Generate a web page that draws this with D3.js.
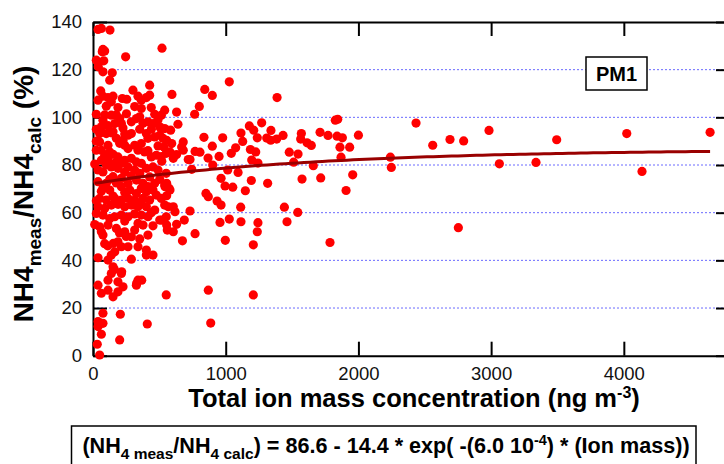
<!DOCTYPE html>
<html>
<head>
<meta charset="utf-8">
<script src="https://cdn.jsdelivr.net/npm/d3@7"></script>
<style>
  body { margin:0; background:#fff; }
  svg { display:block; font-family:"Liberation Sans", Arial, sans-serif; }
  .axis path, .axis line { stroke:#000; stroke-width:2; }
  .axis text { font-family:"Liberation Sans", Arial, sans-serif; font-size:18.5px; fill:#111; }
  .grid { stroke:#6a6aff; stroke-width:1; stroke-dasharray:2,2; }
</style>
</head>
<body>
<script>
// total ion mass (ng m-3), NH4 meas/calc (%)
var ionMass = [
  1027,842,899,801,766,1387,1826,1844,2434,1271,1178,1211,1341,1115,1711,1570,2000,1771,1839,1879,
  1432,1309,1339,1384,1238,977,836,1565,1128,1613,1645,1075,899,1861,1934,2560,2690,769,806,731,
  1042,1186,1226,950,867,1479,1545,2241,1869,1196,1243,1512,902,1660,2248,1015,1093,744,1957,965,
  1575,1716,1193,995,1053,1316,1148,1907,851,869,935,965,1113,1442,1543,731,957,1027,1115,1243,
  1462,1238,769,997,1208,1786,869,1208,887,
  2793,2984,3494,4022,4650,3062,3338,4137,2753,
  38,63,128,520,75,88,70,246,25,81,38,40,75,145,126,427,58,38,75,113,
  151,100,138,221,254,301,364,402,427,188,364,439,465,515,540,25,75,63,50,138,
  201,214,164,289,327,352,414,452,503,540,100,138,264,289,176,201,226,402,414,465,
  503,527,535,50,25,63,113,126,239,264,314,339,439,477,88,63,113,188,214,164,
  239,289,327,364,13,38,75,138,188,264,314,402,452,490,552,552,38,100,151,214,
  264,327,377,414,465,540,
  75,126,214,277,364,402,477,50,100,164,214,264,314,377,427,38,88,138,239,289,
  339,402,465,540,25,75,164,214,264,364,414,503,552,50,113,176,75,239,314,377,
  414,289,188,264,214,339,402,452,402,164,138,113,38,289,151,138,214,113,188,38,
  339,327,226,113,188,63,151,552,75,206,38,75,38,409,63,201,32,50,
  595,630,640,585,555,593,680,668,580,630,680,518,605,718,555,573,543,580,555,568,
  605,618,518,555,560,605,630,688,674,
  216,161,329,367,111,153,
  339,314,252,176,226,352,377,490,440,25,88,113,151,239,364,389,490,414,515,151,
  25,100,239,352,427,503,289,176,126,63,151,239,327,452,515,189,364,439,314,126,
  239,339,452,25,13,200,352,250,88,63
];
var nh4Ratio = [
  114.9,111.7,109.2,104.6,101.3,108.3,98.8,99.2,97.6,97.7,96.4,94.6,94.5,93.4,93.7,93.2,92.5,92.4,92.1,91.4,
  92.4,91.3,90.4,90.9,91.4,91.4,91.6,90.9,89.9,89.3,88.2,87.2,87.9,87.5,87.5,88.3,90.7,85.7,85.4,82.3,
  84.9,86.5,85.5,83.6,82.9,85.4,84.6,83.3,83.3,82.1,80.8,81.2,80.0,79.7,79.0,77.9,76.9,78.2,75.9,74.4,
  74.1,74.6,73.5,71.2,70.7,72.3,69.2,69.3,68.1,66.7,64.9,63.2,62.3,62.3,60.1,60.7,55.9,57.3,56.2,55.8,
  56.2,52.0,51.2,48.4,46.5,47.5,27.5,25.5,13.7,
  90.1,94.5,90.6,93.2,93.7,80.5,81.1,77.3,53.7,
  136.9,137.3,136.6,129.0,128.5,127.8,127.5,125.4,124,123.7,123.1,121.2,119.1,118.7,115.6,113.5,111.1,107.2,108.9,108.3,
  108.9,104.7,106.5,107.9,107.6,111.4,107.2,108.3,109.3,104.1,103.7,104.1,101.3,100.9,103.0,101.3,98.8,96.0,93.2,100.9,
  99.5,97.4,97.4,98.1,99.5,100.2,98.1,97.4,96.0,95.3,93.2,93.5,92.5,93.2,91.2,89.1,90.4,93.2,91.2,91.8,
  92.5,91.2,87.6,89.7,86.2,86.2,88.3,85.5,88.3,86.9,88.3,86.2,83.4,84.1,84.1,82.0,82.0,83.4,80.7,80.7,
  82.0,82.8,81.3,80.7,80.4,77.9,77.1,79.2,78.6,79.2,77.9,78.6,79.2,77.9,76.5,84.9,73.0,72.3,75.1,74.4,
  72.3,73.7,72.3,70.9,72.3,71.6,
  70.2,69.5,70.9,69.5,70.2,68.8,67.4,66.0,65.3,66.0,65.3,66.0,65.3,66.0,65.3,62.5,61.8,63.2,62.5,63.2,
  62.5,62.5,61.1,63.2,59.7,59.0,58.3,59.0,58.3,59.0,58.3,56.9,58.3,54.1,54.8,53.4,50.6,52.0,52.7,54.8,
  50.6,49.9,47.8,45.7,45.7,45.7,44.3,42.2,42.2,43.6,42.2,40.1,41.1,40.5,37.3,34.5,34.5,31.7,31.0,29.6,
  31.7,29.6,28.9,27.5,26.8,26.2,24.7,25.5,17.8,17.4,14.3,13.6,12.2,13.3,9.0,6.6,4.8,0.3,
  109.6,102.2,97.1,94.6,90.4,89.0,89.7,87.6,85.5,84.4,86.2,81.6,82.8,82.3,72.3,70.2,70.9,69.5,67.1,62.5,
  62.5,60.4,56.9,54.8,52.7,52.0,55.1,56.9,48.2,
  35.2,36.2,30.4,31.7,46.1,47.1,
  108.9,104.5,101.5,101.0,95.5,95.0,97.5,99.0,95.0,95.0,101.0,96.5,94.0,93.0,89.0,85.5,88.0,86.0,83.5,84.5,
  90.0,80.0,77.0,76.5,75.0,74.0,75.5,72.5,74.0,69.0,67.0,68.5,68.0,69.5,66.0,63.5,64.0,60.0,59.5,57.5,
  56.5,55.5,54.5,65.0,55.0,51.5,49.0,50.0,47.0,52.0
];
var xTicks = [0, 1000, 2000, 3000, 4000];
var yTicks = [0, 20, 40, 60, 80, 100, 120, 140];
var gridVals = [20, 40, 60, 80, 100, 120];
// fit: ratio = a - b * exp(-k * mass)
var fitA = 86.6, fitB = 14.4, fitK = 6.0e-4;

var W = 724, H = 464;
var padL = 93, padR = 730, padT = 22, padB = 355.7;

var svg = d3.select("body").append("svg")
    .attr("width", W).attr("height", H);

var x = d3.scaleLinear().domain([0, 4800]).range([padL, padR]);
var y = d3.scaleLinear().domain([0, 140]).range([padB, padT]);

// grid
svg.append("g").selectAll("line")
    .data(gridVals).enter().append("line")
      .attr("class", "grid")
      .attr("x1", padL).attr("x2", padR)
      .attr("y1", function(d){ return y(d); })
      .attr("y2", function(d){ return y(d); });

// PM1 label box
svg.append("rect")
    .attr("x", 586).attr("y", 57).attr("width", 61).attr("height", 33)
    .attr("fill", "#fff").attr("stroke", "#000").attr("stroke-width", 1.5);
svg.append("text")
    .attr("x", 616.5).attr("y", 81)
    .attr("text-anchor", "middle")
    .style("font-size", "20px").style("font-weight", "bold")
    .text("PM1");

// axes (ticks point inward)
svg.append("g").attr("class", "axis")
    .attr("transform", "translate(" + padL + ",0)")
    .call(d3.axisLeft(y).tickValues(yTicks).tickSizeInner(-14).tickSizeOuter(0).tickPadding(11).tickFormat(d3.format("d")));
svg.append("g").attr("class", "axis")
    .attr("transform", "translate(" + padR + ",0)")
    .call(d3.axisRight(y).tickValues(yTicks).tickSizeInner(-14).tickSizeOuter(0).tickFormat(""));
svg.append("g").attr("class", "axis")
    .attr("transform", "translate(0," + padB + ")")
    .call(d3.axisBottom(x).tickValues(xTicks).tickSizeInner(-14).tickSizeOuter(0).tickPadding(11).tickFormat(d3.format("d")));
svg.append("g").attr("class", "axis")
    .attr("transform", "translate(0," + padT + ")")
    .call(d3.axisTop(x).tickValues(xTicks).tickSizeInner(-14).tickSizeOuter(0).tickFormat(""));

// points
var pts = ionMass.map(function(m, i){ return {m: m, r: nh4Ratio[i]}; });
svg.append("g").selectAll("circle")
    .data(pts).enter().append("circle")
      .attr("cx", function(d){ return x(d.m); })
      .attr("cy", function(d){ return y(d.r); })
      .attr("r", 4.6)
      .attr("fill", "#ff0000");

// fit curve
var mMin = d3.min(ionMass), mMax = d3.max(ionMass);
var fitPts = d3.range(0, 101).map(function(i){
  var m = mMin + (mMax - mMin) * i / 100;
  return [m, fitA - fitB * Math.exp(-fitK * m)];
});
svg.append("path")
    .datum(fitPts)
    .attr("fill", "none")
    .attr("stroke", "#990000")
    .attr("stroke-width", 3)
    .attr("d", d3.line().x(function(d){ return x(d[0]); }).y(function(d){ return y(d[1]); }));

// axis titles
var xt = svg.append("text")
    .attr("x", 414).attr("y", 407)
    .attr("text-anchor", "middle")
    .style("font-size", "25.5px").style("font-weight", "bold");
xt.append("tspan").text("Total ion mass concentration (ng m");
xt.append("tspan").attr("dy", -9).style("font-size", "16px").text("-3");
xt.append("tspan").attr("dy", 9).text(")");

var yt = svg.append("text")
    .attr("transform", "translate(33,194) rotate(-90)")
    .attr("text-anchor", "middle")
    .style("font-size", "28px").style("font-weight", "bold");
yt.append("tspan").text("NH4");
yt.append("tspan").attr("dy", 8).style("font-size", "19px").text("meas");
yt.append("tspan").attr("dy", -8).text("/NH4");
yt.append("tspan").attr("dy", 8).style("font-size", "19px").text("calc");
yt.append("tspan").attr("dy", -8).text(" (%)");

// equation box
svg.append("rect")
    .attr("x", 71.5).attr("y", 426).attr("width", 624.5).attr("height", 50)
    .attr("fill", "#fff").attr("stroke", "#000").attr("stroke-width", 1.5);
var eq = svg.append("text")
    .attr("x", 386).attr("y", 453)
    .attr("text-anchor", "middle")
    .style("font-size", "21.6px").style("font-weight", "bold");
eq.append("tspan").text("(NH");
eq.append("tspan").attr("dy", 6).style("font-size", "15.5px").text("4 meas");
eq.append("tspan").attr("dy", -6).text("/NH");
eq.append("tspan").attr("dy", 6).style("font-size", "15.5px").text("4 calc");
eq.append("tspan").attr("dy", -6).text(") = " + fitA.toFixed(1) + " - " + fitB.toFixed(1) + " * exp( -(6.0 10");
eq.append("tspan").attr("dy", -8).style("font-size", "14.5px").text("-4");
eq.append("tspan").attr("dy", 8).text(") * (Ion mass))");
</script>
</body>
</html>
